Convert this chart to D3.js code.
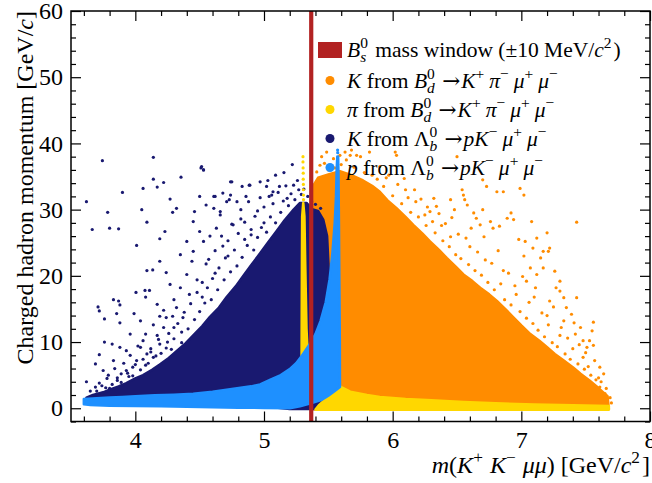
<!DOCTYPE html>
<html>
<head>
<meta charset="utf-8">
<script src="https://cdn.jsdelivr.net/npm/d3@7"></script>
<style>
  body { margin: 0; background: #fff; }
  text { font-family: "Liberation Serif", "DejaVu Serif", serif; white-space: pre; fill: #000; }
</style>
</head>
<body>
<svg id="chart" width="652" height="483"></svg>
<script>
// ---- data: mass m(K+K-mumu) [GeV/c^2] vs charged hadron momentum [GeV/c] ----
const xTicks = [4, 5, 6, 7, 8];
const yTicks = [0, 10, 20, 30, 40, 50, 60];
const bsMass = 5.367;

// dense cores of each sample, outlined as [m, p] vertices
const kBdCore = [
  [5.38, -0.15], [5.38, 33.5], [5.42, 34.8], [5.50, 35.3], [5.59, 35.8], [5.68, 35.2],
  [5.77, 34.4], [5.84, 33.6], [5.90, 32.7], [5.96, 31.4], [6.03, 30.2], [6.10, 28.9],
  [6.16, 27.7], [6.23, 26.4], [6.29, 25.2], [6.36, 23.9], [6.42, 22.7], [6.49, 21.4],
  [6.55, 20.2], [6.62, 19.2], [6.68, 18.2], [6.75, 17.2], [6.81, 16.2], [6.88, 14.9],
  [6.94, 13.7], [7.00, 12.5], [7.07, 11.2], [7.14, 10.2], [7.20, 9.2], [7.26, 8.2],
  [7.33, 7.2], [7.40, 6.2], [7.46, 5.2], [7.53, 4.2], [7.59, 3.2], [7.63, 2.5],
  [7.67, 1.8], [7.68, -0.15]
];
const piBdSpike = [
  [5.292, 6.0], [5.295, 22.0], [5.297, 29.0], [5.305, 31.0], [5.314, 29.0],
  [5.320, 22.0], [5.330, 12.0], [5.345, 6.0]
];
const piBdBand = [
  [5.40, -0.2], [5.43, 0.5], [5.47, 1.2], [5.50, 2.0], [5.53, 3.0], [5.56, 3.7],
  [5.60, 3.2], [5.67, 2.5], [5.80, 2.0], [5.90, 1.7], [6.10, 1.4], [6.30, 1.2],
  [6.55, 0.95], [6.80, 0.75], [7.10, 0.55], [7.40, 0.45], [7.68, 0.35], [7.68, -0.2]
];
const kLbCore = [
  [3.62, 0.8], [3.62, 1.6], [3.67, 2.0], [3.75, 2.4], [3.80, 2.8], [3.87, 3.3],
  [3.93, 3.8], [4.00, 4.5], [4.06, 5.0], [4.13, 5.8], [4.19, 6.6], [4.26, 7.6],
  [4.32, 8.6], [4.39, 9.8], [4.45, 11.0], [4.52, 12.4], [4.58, 13.8], [4.65, 15.2],
  [4.71, 16.8], [4.78, 18.4], [4.84, 20.0], [4.90, 21.6], [4.97, 23.4], [5.03, 25.0],
  [5.10, 26.8], [5.16, 28.4], [5.23, 30.0], [5.28, 31.0], [5.33, 31.0], [5.38, 30.0],
  [5.42, 29.8], [5.46, 28.5], [5.49, 26.0], [5.50, 22.0], [5.51, 18.0], [5.52, 12.0],
  [5.52, 5.0], [5.51, 1.5], [5.50, -0.1], [5.20, -0.1], [5.00, 0.3], [4.50, 0.4],
  [4.00, 0.6]
];
const pLbCore = [
  [3.60, 0.6], [3.60, 1.4], [3.70, 1.5], [3.80, 1.6], [3.90, 1.7], [4.00, 1.8],
  [4.15, 1.95], [4.30, 2.05], [4.45, 2.2], [4.60, 2.5], [4.75, 2.9], [4.90, 3.3],
  [4.97, 3.6], [5.05, 4.3], [5.13, 5.0], [5.20, 5.9], [5.25, 6.8], [5.29, 7.8],
  [5.35, 9.5], [5.40, 11.2], [5.44, 13.2], [5.48, 16.0], [5.51, 19.5], [5.53, 23.0],
  [5.55, 28.0], [5.56, 32.0], [5.565, 36.0], [5.570, 38.0], [5.576, 38.0], [5.579, 35.0],
  [5.582, 28.0], [5.585, 20.0], [5.589, 10.0], [5.590, 3.2], [5.55, 2.6], [5.50, 1.9],
  [5.45, 1.3], [5.37, 0.8], [5.28, 0.3], [5.20, 0.0], [5.00, 0.05], [4.80, 0.1],
  [4.50, 0.2], [4.20, 0.3], [4.00, 0.35], [3.80, 0.4], [3.65, 0.5]
];

// individual candidates outside the dense cores, [m, p]
const kBdPoints = [
  [5.59, 38.2], [5.67, 38.2], [5.75, 38.0], [5.82, 38.7], [6.03, 38.2], [6.02, 38.7],
  [6.50, 38.0], [6.70, 34.5], [6.73, 33.5], [6.81, 32.7], [6.86, 32.7], [6.99, 33.2],
  [7.02, 32.2], [6.54, 33.0], [6.55, 32.2], [6.56, 31.5], [6.32, 31.7], [6.34, 30.5],
  [6.29, 29.7], [6.45, 31.5], [6.48, 30.0], [6.58, 30.7], [6.63, 29.5], [6.65, 28.7],
  [6.70, 30.0], [6.68, 27.7], [6.76, 28.2], [6.78, 27.2], [6.83, 27.5], [6.89, 28.7],
  [6.94, 28.5], [6.92, 29.5], [6.98, 25.5], [7.03, 25.2], [7.08, 28.2], [7.12, 25.7],
  [7.17, 23.7], [7.20, 26.5], [7.21, 23.7], [7.22, 24.2], [7.09, 24.2], [7.15, 22.7],
  [7.17, 21.2], [7.12, 20.2], [7.07, 21.2], [7.02, 23.0], [7.04, 19.2], [7.26, 20.7],
  [7.30, 19.2], [7.30, 17.7], [7.33, 16.7], [7.35, 15.2], [7.39, 14.2], [7.43, 16.7],
  [7.46, 12.2], [7.56, 13.0], [7.55, 11.7], [7.53, 10.2], [7.48, 10.2], [7.51, 9.2],
  [7.57, 7.2], [7.61, 6.2], [7.64, 5.2], [7.65, 2.2], [7.61, 3.2], [7.43, 28.1],
  [7.27, 18.2], [7.22, 16.2], [7.33, 13.2], [7.42, 11.2], [7.48, 7.7],
  [5.448, 38.0], [5.487, 38.7], [5.54, 37.7], [5.63, 38.7], [5.68, 39.0], [5.72, 38.2],
  [5.435, 36.7], [5.47, 37.0], [5.41, 35.7], [5.64, 37.5], [5.90, 36.5], [5.95, 34.8],
  [6.10, 33.0], [6.18, 31.2], [6.25, 29.2], [6.38, 27.6], [6.45, 25.9], [6.60, 24.4],
  [6.72, 22.4], [6.86, 20.8], [6.95, 18.5], [7.10, 16.8], [7.20, 14.0], [7.30, 11.0],
  [7.40, 9.0], [7.52, 6.3], [7.60, 4.6],
  [5.88, 34.6], [5.93, 33.5], [5.97, 35.2], [6.00, 32.1], [6.04, 33.8], [6.07, 30.9],
  [6.09, 34.7], [6.12, 31.8], [6.14, 29.6], [6.17, 33.0], [6.20, 28.9], [6.22, 31.6],
  [6.26, 27.6], [6.27, 30.4], [6.31, 28.2], [6.33, 26.5], [6.36, 29.4], [6.39, 25.3],
  [6.41, 27.9], [6.44, 24.4], [6.46, 28.8], [6.49, 23.2], [6.51, 26.3], [6.53, 22.6],
  [6.57, 25.7], [6.59, 21.7], [6.61, 27.2], [6.64, 20.8], [6.66, 23.6], [6.69, 20.1],
  [6.71, 25.9], [6.74, 19.0], [6.77, 21.9], [6.79, 17.9], [6.82, 23.8], [6.84, 18.8],
  [6.87, 16.4], [6.90, 20.4], [6.92, 15.6], [6.96, 17.2], [6.99, 14.6], [7.01, 19.9],
  [7.04, 13.6], [7.06, 16.0], [7.09, 12.8], [7.11, 18.2], [7.13, 11.8], [7.16, 14.4],
  [7.18, 10.8], [7.21, 12.6], [7.24, 9.9], [7.25, 15.3], [7.28, 9.3], [7.31, 12.2],
  [7.34, 8.2], [7.36, 10.6], [7.38, 7.4], [7.41, 12.9], [7.44, 6.7], [7.45, 9.6],
  [7.49, 5.9], [7.50, 8.4], [7.54, 5.0], [7.56, 9.5], [7.58, 4.3], [7.62, 4.0],
  [7.66, 3.0], [7.69, 1.6], [7.70, 0.8], [5.60, 36.8], [5.70, 36.4], [5.78, 35.6],
  [5.84, 35.2], [5.55, 36.3], [5.50, 36.0]
];
const piBdPoints = [
  [5.303, 38.0], [5.303, 37.2], [5.304, 36.3], [5.305, 35.5], [5.305, 34.6],
  [5.306, 33.8], [5.306, 33.0], [5.307, 32.2], [5.307, 31.5]
];
const kLbPoints = [
  [3.744, 37.4], [4.14, 37.9], [3.62, 31.2], [3.665, 27.0], [3.785, 29.6], [3.80, 27.2],
  [3.87, 27.1], [3.90, 32.6], [4.06, 33.2], [4.05, 30.0], [4.09, 28.1], [4.14, 34.6],
  [4.17, 33.4], [4.22, 34.1], [4.355, 34.9], [4.51, 36.3], [4.53, 36.0], [4.74, 34.2],
  [4.01, 24.6], [4.19, 25.6], [4.23, 26.7], [4.29, 29.6], [4.32, 30.2], [4.27, 31.6],
  [4.09, 20.8], [4.135, 20.9], [4.005, 17.5], [4.075, 17.8], [4.08, 16.8], [4.11, 17.8],
  [3.71, 15.3], [3.72, 14.7], [3.83, 16.4], [3.87, 16.2], [3.88, 15.6], [3.76, 13.5],
  [3.855, 14.3], [3.88, 12.9], [3.99, 14.3], [4.04, 13.2], [3.76, 10.0], [3.82, 9.7],
  [3.88, 9.2], [3.72, 8.1], [3.69, 6.7], [3.62, 4.0], [3.65, 2.6], [3.69, 3.2],
  [3.75, 5.7], [3.78, 4.5], [3.80, 3.0], [3.93, 5.7], [4.01, 7.2], [4.09, 8.2],
  [4.17, 11.0], [4.22, 12.2], [4.24, 13.7], [4.32, 15.2], [4.19, 13.9], [4.35, 18.2],
  [4.40, 20.2], [4.44, 22.2], [4.45, 23.7], [4.53, 25.2], [4.50, 26.7], [4.63, 27.2],
  [4.61, 30.2], [4.66, 29.2], [4.71, 31.2], [4.74, 32.2], [4.83, 33.5], [4.885, 33.7],
  [4.97, 34.2], [5.03, 34.4], [5.09, 35.2], [5.155, 35.6], [5.22, 36.8], [5.02, 33.5],
  [5.07, 32.7], [5.12, 33.5], [5.23, 33.7], [5.27, 33.0], [4.55, 30.7], [4.46, 29.7],
  [4.61, 32.0], [4.50, 32.0], [4.45, 28.2], [4.76, 27.7], [4.40, 25.2], [4.35, 23.2],
  [4.19, 22.2], [4.24, 20.5], [4.27, 18.7], [4.17, 15.7], [3.96, 11.2], [4.06, 10.2],
  [3.93, 8.7], [4.04, 9.2], [3.83, 7.2], [3.89, 5.2], [4.14, 7.7], [4.19, 9.7],
  [4.30, 12.2], [4.37, 13.7], [4.515, 36.5], [4.53, 36.0], [4.75, 34.2], [4.89, 33.7],
  [5.18, 31.7], [5.06, 32.2], [4.68, 32.5], [4.62, 32.0], [4.73, 31.5], [4.79, 31.2],
  [4.66, 29.7], [4.86, 32.0], [4.82, 28.6], [4.90, 27.0], [4.95, 29.8], [5.00, 28.0],
  [4.58, 26.0], [4.68, 24.5], [4.55, 21.8], [4.48, 19.4], [4.42, 17.2], [4.30, 16.4],
  [4.52, 16.8], [4.62, 20.4], [4.72, 23.0], [4.85, 25.5], [4.36, 11.5], [4.25, 10.0],
  [4.12, 9.0], [3.98, 6.2], [4.08, 6.5], [3.86, 4.2], [3.74, 3.4], [3.95, 4.8],
  [4.30, 10.5], [4.33, 12.8], [4.36, 9.9], [4.38, 14.5], [4.41, 12.0], [4.43, 15.8],
  [4.46, 13.4], [4.48, 17.5], [4.50, 14.6], [4.52, 19.0], [4.54, 15.9], [4.56, 18.2],
  [4.57, 22.5], [4.59, 16.4], [4.60, 19.6], [4.62, 23.8], [4.64, 17.9], [4.65, 21.2],
  [4.67, 26.0], [4.69, 19.4], [4.70, 22.7], [4.72, 25.3], [4.74, 20.6], [4.75, 27.8],
  [4.77, 23.9], [4.79, 21.5], [4.80, 26.4], [4.82, 30.0], [4.83, 22.8], [4.85, 28.1],
  [4.87, 24.6], [4.88, 31.2], [4.90, 26.2], [4.92, 23.9], [4.93, 29.0], [4.95, 25.8],
  [4.97, 31.8], [4.98, 27.3], [5.00, 30.4], [5.02, 26.6], [5.04, 32.0], [5.05, 28.9],
  [5.07, 30.9], [5.09, 28.0], [5.11, 32.6], [5.13, 29.6], [5.15, 31.3], [5.17, 33.6],
  [5.19, 30.6], [5.21, 32.4], [5.24, 31.5], [5.26, 34.4], [5.29, 32.3], [5.31, 33.1],
  [5.34, 32.0], [5.37, 31.2], [5.40, 30.8], [5.44, 30.2],
  [3.70, 2.6], [3.72, 3.8], [3.74, 2.2], [3.77, 3.1], [3.79, 5.0], [3.82, 3.6],
  [3.84, 6.0], [3.86, 4.6], [3.89, 3.9], [3.91, 6.8], [3.94, 5.3], [3.96, 8.0],
  [3.98, 4.9], [4.00, 6.6], [4.02, 9.4], [4.04, 5.8], [4.06, 7.4], [4.08, 11.2],
  [4.10, 6.8], [4.12, 8.5], [4.14, 12.6], [4.16, 7.9], [4.18, 10.4], [4.20, 8.3],
  [4.22, 14.8], [4.24, 9.1], [4.26, 11.3], [4.28, 8.9], [4.29, 13.9]
];
const pLbPoints = [
  [5.572, 39.0], [5.573, 38.6]
];

// ---- layout ----
const svg = d3.select("#chart");
const plotL = 71, plotR = 650, plotT = 11, plotB = 421.5;

const x = d3.scaleLinear().domain([3.5, 8]).range([plotL, plotR]);
const y = d3.scaleLinear().domain([-2, 60]).range([plotB, plotT]);

svg.append("defs").append("clipPath").attr("id", "plotClip")
  .append("rect").attr("x", plotL).attr("y", plotT)
  .attr("width", plotR - plotL).attr("height", plotB - plotT);

const plot = svg.append("g").attr("clip-path", "url(#plotClip)");
const outline = d3.line().x(d => x(d[0])).y(d => y(d[1])).curve(d3.curveLinearClosed);

function drawSample(cores, points, colour) {
  cores.forEach(poly => {
    plot.append("path").attr("d", outline(poly))
      .attr("fill", colour).attr("stroke", colour)
      .attr("stroke-width", 2.6).attr("stroke-linejoin", "round");
  });
  plot.append("g").selectAll("circle").data(points).join("circle")
    .attr("cx", d => x(d[0])).attr("cy", d => y(d[1])).attr("r", 1.6)
    .attr("fill", colour);
}

const C_KBD = "#ff8c00", C_PIBD = "#ffd700", C_KLB = "#191970", C_PLB = "#1e90ff", C_BS = "#b22222";

drawSample([kBdCore], kBdPoints, C_KBD);
drawSample([kLbCore], kLbPoints, C_KLB);
drawSample([piBdSpike, piBdBand], piBdPoints, C_PIBD);
drawSample([pLbCore], pLbPoints, C_PLB);

// B_s mass window marker
plot.append("line")
  .attr("x1", x(bsMass)).attr("x2", x(bsMass))
  .attr("y1", plotT).attr("y2", plotB)
  .attr("stroke", C_BS).attr("stroke-width", 4.2);

// ---- axes: inward ticks on all four sides ----
const xMinor = d3.range(3.6, 8.001, 0.2).filter(v => Math.abs(v - Math.round(v)) > 1e-6);
const yMinor = d3.range(-2, 60.001, 2).filter(v => v % 10 !== 0);

function styleAxis(g) {
  g.select(".domain").remove();
  g.selectAll(".tick line").attr("stroke", "#000").attr("stroke-width", 1.2);
  g.selectAll(".tick text").attr("font-size", 24).attr("fill", "#000")
    .style("font-family", '"Liberation Serif", serif');
}

svg.append("g").attr("transform", `translate(0,${plotB})`)
  .call(d3.axisBottom(x).tickValues(xTicks).tickFormat(d3.format("d")).tickSize(-10).tickPadding(9))
  .call(styleAxis);
svg.append("g").attr("transform", `translate(0,${plotB})`)
  .call(d3.axisBottom(x).tickValues(xMinor).tickFormat("").tickSize(-5)).call(styleAxis);
svg.append("g").attr("transform", `translate(0,${plotT})`)
  .call(d3.axisTop(x).tickValues(xTicks).tickFormat("").tickSize(-10)).call(styleAxis);
svg.append("g").attr("transform", `translate(0,${plotT})`)
  .call(d3.axisTop(x).tickValues(xMinor).tickFormat("").tickSize(-5)).call(styleAxis);

svg.append("g").attr("transform", `translate(${plotL},0)`)
  .call(d3.axisLeft(y).tickValues(yTicks).tickFormat(d3.format("d")).tickSize(-10).tickPadding(8))
  .call(styleAxis);
svg.append("g").attr("transform", `translate(${plotL},0)`)
  .call(d3.axisLeft(y).tickValues(yMinor).tickFormat("").tickSize(-5)).call(styleAxis);
svg.append("g").attr("transform", `translate(${plotR},0)`)
  .call(d3.axisRight(y).tickValues(yTicks).tickFormat("").tickSize(-10)).call(styleAxis);
svg.append("g").attr("transform", `translate(${plotR},0)`)
  .call(d3.axisRight(y).tickValues(yMinor).tickFormat("").tickSize(-5)).call(styleAxis);

svg.append("rect").attr("x", plotL).attr("y", plotT)
  .attr("width", plotR - plotL).attr("height", plotB - plotT)
  .attr("fill", "none").attr("stroke", "#000").attr("stroke-width", 1.5);

// ---- rich text: one <text> per label, with plain / italic runs and stacked scripts ----
function rich(g, x0, y0, parts, fs) {
  const ss = fs * 0.72;
  const text = g.append("text").attr("font-size", fs);
  let cx = x0;
  for (const p of parts) {
    if (p.t !== undefined) {
      const ts = text.append("tspan").attr("x", cx).attr("y", y0)
        .style("font-style", p.i ? "italic" : "normal").text(p.t);
      if (p.font) ts.style("font-family", p.font);
      cx += ts.node().getComputedTextLength() + (p.gap || 0);
    } else {
      let w = 0;
      if (p.sup !== undefined) {
        const ts = text.append("tspan").attr("x", cx).attr("y", y0 - fs * 0.4).attr("font-size", ss)
          .style("font-style", p.supI ? "italic" : "normal").text(p.sup);
        w = Math.max(w, ts.node().getComputedTextLength());
      }
      if (p.sub !== undefined) {
        const ts = text.append("tspan").attr("x", cx).attr("y", y0 + fs * 0.24).attr("font-size", ss)
          .style("font-style", p.subI ? "italic" : "normal").text(p.sub);
        w = Math.max(w, ts.node().getComputedTextLength());
      }
      cx += w + (p.gap === undefined ? 2 : p.gap);
    }
  }
  return cx;
}

const ARROW = { t: "\u2192", font: '"DejaVu Serif", serif', gap: 1 };
const decayKpi = [
  { t: " " }, ARROW, { t: "K", i: true }, { sup: "+", gap: 5 }, { t: "\u03c0", i: true }, { sup: "\u2212", gap: 5 },
  { t: "\u03bc", i: true }, { sup: "+", gap: 5 }, { t: "\u03bc", i: true }, { sup: "\u2212" }
];
const decayPK = [
  { t: " " }, ARROW, { t: "p", i: true }, { t: "K", i: true }, { sup: "\u2212", gap: 5 },
  { t: "\u03bc", i: true }, { sup: "+", gap: 5 }, { t: "\u03bc", i: true }, { sup: "\u2212" }
];
const legendRows = [
  { colour: C_KBD, parts: [{ t: "K", i: true }, { t: " from " }, { t: "B", i: true }, { sub: "d", subI: true, sup: "0" }].concat(decayKpi) },
  { colour: C_PIBD, parts: [{ t: "\u03c0", i: true }, { t: " from " }, { t: "B", i: true }, { sub: "d", subI: true, sup: "0" }].concat(decayKpi) },
  { colour: C_KLB, parts: [{ t: "K", i: true }, { t: " from " }, { t: "\u039b" }, { sub: "b", subI: true, sup: "0" }].concat(decayPK) },
  { colour: C_PLB, parts: [{ t: "p", i: true }, { t: " from " }, { t: "\u039b" }, { sub: "b", subI: true, sup: "0" }].concat(decayPK) }
];

const legend = svg.append("g");
const lfs = 21.5, textX = 347;
legend.append("rect").attr("x", 318).attr("y", 42).attr("width", 24).attr("height", 16).attr("fill", C_BS);
rich(legend, textX, 57, [
  { t: "B", i: true }, { sub: "s", subI: true, sup: "0" },
  { t: " mass window (\u00b110 MeV/" }, { t: "c", i: true }, { sup: "2" }, { t: ")" }
], lfs);
legendRows.forEach((row, k) => {
  const cy = 80.5 + k * 29;
  legend.append("circle").attr("cx", 330).attr("cy", cy).attr("r", 4.5).attr("fill", row.colour);
  rich(legend, textX, cy + 7, row.parts, lfs);
});

// ---- axis titles (aligned to the far end of each axis) ----
const xt = svg.append("g");
const xParts = [
  { t: "m", i: true }, { t: "(" }, { t: "K", i: true }, { sup: "+", gap: 7 }, { t: "K", i: true }, { sup: "\u2212", gap: 7 },
  { t: "\u03bc\u03bc", i: true }, { t: ") [GeV/" }, { t: "c", i: true }, { sup: "2" }, { t: "]" }
];
const xEnd = rich(xt, 0, 0, xParts, 24);
xt.attr("transform", `translate(${plotR - xEnd},473)`);

const yt = svg.append("g");
const yEnd = rich(yt, 0, 0, [{ t: "Charged hadron momentum [GeV/" }, { t: "c", i: true }, { t: "]" }], 24);
yt.attr("transform", `translate(33,${plotT + yEnd}) rotate(-90)`);
</script>
</body>
</html>
